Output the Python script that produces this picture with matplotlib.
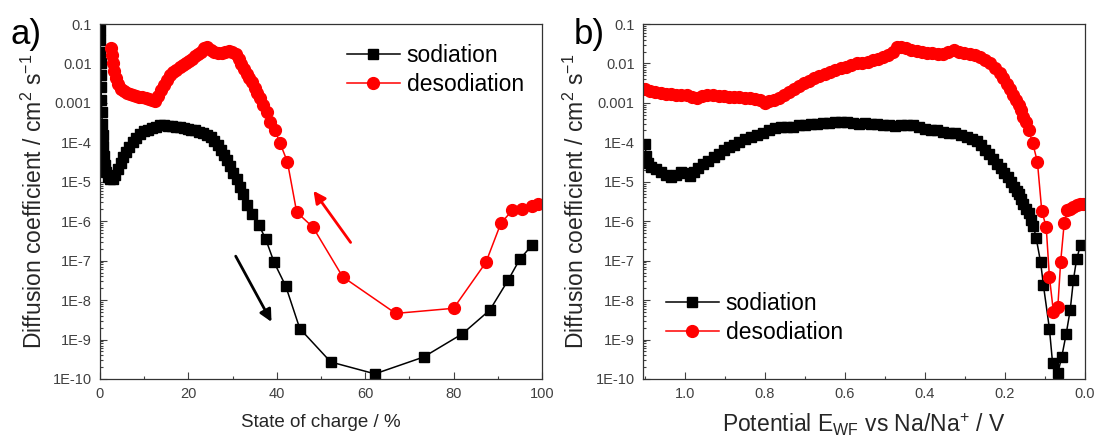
import matplotlib
matplotlib.use('Agg')
import matplotlib.pyplot as plt
from matplotlib.ticker import FixedLocator, FixedFormatter, LogLocator, NullFormatter, MultipleLocator

# panel a: diffusion coefficient vs state of charge
soc_sod = [0.0, 0.05, 0.1, 0.15, 0.2, 0.25, 0.3, 0.4, 0.5, 0.6,
           0.75, 0.9, 1.1, 1.4, 1.8, 2.3, 2.9, 3.5, 4.1, 4.7,
           5.3, 5.9, 6.6, 7.4, 8.2, 9.0, 9.9, 10.8, 11.7, 12.6,
           13.5, 14.4, 15.3, 16.2, 17.1, 18.0, 18.9, 19.8, 20.7, 21.6,
           22.5, 23.4, 24.3, 25.1, 25.9, 26.7, 27.4, 28.1, 28.8, 29.5,
           30.2, 30.9, 31.6, 32.3, 33.2, 34.5, 36.0, 37.5, 39.4, 42.0,
           45.2, 52.2, 62.2, 73.2, 82.0, 88.2, 92.4, 95.0, 97.8]
d_sod_a = [7e-2, 4e-2, 2e-2, 1e-2, 5e-3, 2.5e-3, 1.2e-3, 6e-4, 3e-4, 1.5e-4,
           8e-5, 4.5e-5, 2.7e-5, 1.8e-5, 1.3e-5, 1.15e-5, 1.2e-5, 1.5e-5, 2.1e-5, 3e-5,
           4.2e-5, 5.8e-5, 7.8e-5, 1.0e-4, 1.3e-4, 1.6e-4, 1.9e-4, 2.1e-4, 2.3e-4, 2.5e-4,
           2.7e-4, 2.7e-4, 2.65e-4, 2.6e-4, 2.5e-4, 2.4e-4, 2.3e-4, 2.2e-4, 2.1e-4, 2.0e-4,
           1.85e-4, 1.7e-4, 1.55e-4, 1.35e-4, 1.1e-4, 8.5e-5, 6.5e-5, 4.8e-5, 3.5e-5, 2.5e-5,
           1.7e-5, 1.15e-5, 7.5e-6, 4.8e-6, 2.6e-6, 1.5e-6, 7.8e-7, 3.5e-7, 9e-8, 2.3e-8,
           1.9e-9, 2.7e-10, 1.35e-10, 3.6e-10, 1.4e-9, 5.6e-9, 3.3e-8, 1.1e-7, 2.5e-7]

soc_des = [99.2, 97.8, 95.5, 93.3, 90.7, 87.3, 80.0, 66.9, 54.9, 48.2,
           44.5, 42.4, 40.7, 39.6, 38.5, 37.7, 36.9, 36.2, 35.6, 35.0,
           34.4, 33.8, 33.2, 32.6, 32.0, 31.4, 30.7, 29.9, 29.1, 28.3,
           27.5, 26.7, 25.9, 25.1, 24.3, 23.6, 22.9, 22.2, 21.5, 20.8,
           20.1, 19.4, 18.7, 18.0, 17.3, 16.6, 15.9, 15.2, 14.5, 13.8,
           13.1, 12.4, 11.7, 11.0, 10.3, 9.6, 8.9, 8.2, 7.5, 6.8,
           6.1, 5.4, 4.7, 4.1, 3.6, 3.2, 2.9, 2.7, 2.6]
d_des_a = [2.7e-6, 2.5e-6, 2.1e-6, 1.9e-6, 8.9e-7, 9e-8, 6.2e-9, 4.6e-9, 3.9e-8, 7e-7,
           1.7e-6, 3.2e-5, 9.8e-5, 2e-4, 3.3e-4, 6e-4, 9e-4, 1.3e-3, 1.8e-3, 2.4e-3,
           3.3e-3, 4.3e-3, 5.5e-3, 7.2e-3, 9.5e-3, 1.3e-2, 1.7e-2, 2.0e-2, 2.1e-2, 1.9e-2,
           1.8e-2, 1.85e-2, 2.0e-2, 2.2e-2, 2.6e-2, 2.5e-2, 2.0e-2, 1.7e-2, 1.5e-2, 1.3e-2,
           1.15e-2, 1.0e-2, 9e-3, 8e-3, 7e-3, 6e-3, 5e-3, 3.9e-3, 2.9e-3, 2.1e-3,
           1.5e-3, 1.1e-3, 1.15e-3, 1.25e-3, 1.35e-3, 1.4e-3, 1.45e-3, 1.5e-3, 1.6e-3, 1.7e-3,
           1.8e-3, 2.0e-3, 2.3e-3, 3.0e-3, 4.3e-3, 6.5e-3, 1.0e-2, 1.6e-2, 2.4e-2]

# panel b: diffusion coefficient vs potential
v_sod = [1.100, 1.097, 1.092, 1.085, 1.072, 1.060, 1.048, 1.035, 1.022, 1.010,
         0.998, 0.988, 0.978, 0.968, 0.955, 0.942, 0.928, 0.915, 0.903, 0.890,
         0.878, 0.865, 0.850, 0.835, 0.820, 0.805, 0.790, 0.775, 0.760, 0.745,
         0.730, 0.715, 0.700, 0.685, 0.670, 0.655, 0.640, 0.625, 0.610, 0.595,
         0.580, 0.565, 0.550, 0.535, 0.520, 0.505, 0.490, 0.475, 0.460, 0.445,
         0.430, 0.415, 0.400, 0.385, 0.370, 0.355, 0.340, 0.325, 0.310, 0.296,
         0.283, 0.270, 0.260, 0.250, 0.240, 0.230, 0.220, 0.210, 0.202, 0.193,
         0.185, 0.178, 0.171, 0.165, 0.159, 0.154, 0.147, 0.141, 0.135, 0.129,
         0.122, 0.111, 0.104, 0.089, 0.081, 0.068, 0.058, 0.047, 0.037, 0.029,
         0.021, 0.011]
d_sod_b = [9e-5, 4.5e-5, 3e-5, 2.4e-5, 2.1e-5, 1.8e-5, 1.5e-5, 1.35e-5, 1.5e-5, 1.8e-5,
           1.7e-5, 1.4e-5, 1.8e-5, 2.2e-5, 2.8e-5, 3.4e-5, 4.3e-5, 5.2e-5, 6.5e-5, 7.5e-5,
           8.5e-5, 1.0e-4, 1.2e-4, 1.35e-4, 1.5e-4, 1.7e-4, 2.0e-4, 2.3e-4, 2.4e-4, 2.5e-4,
           2.4e-4, 2.7e-4, 2.8e-4, 2.9e-4, 3.0e-4, 3.1e-4, 3.1e-4, 3.2e-4, 3.3e-4, 3.2e-4,
           3.1e-4, 3.0e-4, 3.1e-4, 3.0e-4, 2.9e-4, 2.8e-4, 2.7e-4, 2.6e-4, 2.7e-4, 2.8e-4,
           2.7e-4, 2.4e-4, 2.2e-4, 2.1e-4, 2.0e-4, 1.8e-4, 1.75e-4, 1.7e-4, 1.5e-4, 1.4e-4,
           1.25e-4, 1.05e-4, 8.5e-5, 6.5e-5, 5e-5, 3.7e-5, 2.8e-5, 2.2e-5, 1.7e-5, 1.3e-5,
           1.0e-5, 7.5e-6, 6e-6, 4.8e-6, 3.6e-6, 2.8e-6, 2.1e-6, 1.6e-6, 1.1e-6, 7.6e-7,
           3.7e-7, 9.2e-8, 2.4e-8, 1.9e-9, 2.5e-10, 1.4e-10, 3.7e-10, 1.4e-9, 5.6e-9, 3.2e-8,
           1.1e-7, 2.5e-7]

v_des = [0.004, 0.012, 0.021, 0.030, 0.037, 0.044, 0.052, 0.061, 0.068, 0.079,
         0.089, 0.097, 0.108, 0.119, 0.131, 0.141, 0.148, 0.154, 0.160, 0.166,
         0.172, 0.179, 0.188, 0.196, 0.204, 0.212, 0.224, 0.237, 0.250, 0.262,
         0.275, 0.288, 0.303, 0.316, 0.328, 0.342, 0.355, 0.368, 0.382, 0.395,
         0.408, 0.420, 0.434, 0.447, 0.460, 0.470, 0.480, 0.492, 0.505, 0.518,
         0.530, 0.543, 0.557, 0.570, 0.584, 0.597, 0.611, 0.625, 0.638, 0.651,
         0.664, 0.677, 0.690, 0.702, 0.714, 0.727, 0.740, 0.753, 0.766, 0.778,
         0.790, 0.800, 0.812, 0.825, 0.838, 0.851, 0.864, 0.877, 0.890, 0.903,
         0.916, 0.930, 0.944, 0.957, 0.970, 0.983, 0.996, 1.009, 1.022, 1.035,
         1.048, 1.061, 1.074, 1.087, 1.100]
d_des_b = [2.8e-6, 2.7e-6, 2.6e-6, 2.3e-6, 2.1e-6, 1.9e-6, 8.9e-7, 9e-8, 6.6e-9, 5.1e-9,
           3.9e-8, 7.2e-7, 1.8e-6, 3.2e-5, 9.8e-5, 2e-4, 3.3e-4, 4.5e-4, 6.5e-4, 9e-4,
           1.2e-3, 1.6e-3, 2.2e-3, 3.0e-3, 4.2e-3, 5.8e-3, 7.5e-3, 1.0e-2, 1.25e-2, 1.45e-2,
           1.6e-2, 1.7e-2, 1.8e-2, 2.0e-2, 2.2e-2, 1.9e-2, 1.7e-2, 1.7e-2, 1.8e-2, 1.8e-2,
           1.9e-2, 2.1e-2, 2.2e-2, 2.4e-2, 2.6e-2, 2.6e-2, 1.9e-2, 1.6e-2, 1.45e-2, 1.3e-2,
           1.2e-2, 1.1e-2, 1.05e-2, 1.0e-2, 9e-3, 8.3e-3, 7.6e-3, 6.8e-3, 6.0e-3, 5.4e-3,
           4.9e-3, 4.3e-3, 3.6e-3, 3.2e-3, 2.7e-3, 2.3e-3, 1.9e-3, 1.6e-3, 1.35e-3, 1.2e-3,
           1.1e-3, 1.0e-3, 1.15e-3, 1.25e-3, 1.3e-3, 1.3e-3, 1.4e-3, 1.45e-3, 1.45e-3, 1.5e-3,
           1.5e-3, 1.55e-3, 1.6e-3, 1.5e-3, 1.35e-3, 1.4e-3, 1.55e-3, 1.6e-3, 1.6e-3, 1.65e-3,
           1.7e-3, 1.75e-3, 1.9e-3, 2.0e-3, 2.2e-3]

y_ticks = [1e-10, 1e-9, 1e-8, 1e-7, 1e-6, 1e-5, 1e-4, 1e-3, 1e-2, 1e-1]
y_tick_labels = ['1E-10', '1E-9', '1E-8', '1E-7', '1E-6', '1E-5', '1E-4', '0.001', '0.01', '0.1']

plt.rcParams['font.family'] = ['Liberation Sans', 'DejaVu Sans']
plt.rcParams['mathtext.fontset'] = 'custom'
plt.rcParams['mathtext.rm'] = 'Liberation Sans'
plt.rcParams['mathtext.it'] = 'Liberation Sans:italic'
plt.rcParams['mathtext.default'] = 'regular'

tick_col = '#404040'
red = '#ff0000'

fig = plt.figure(figsize=(10.96, 4.38), dpi=100)
ax1 = fig.add_axes([100/1096, 59/438, 442/1096, 355/438])
ax2 = fig.add_axes([643/1096, 59/438, 442/1096, 355/438])


def style_axis(ax):
    ax.set_yscale('log')
    ax.set_ylim(1e-10, 0.1)
    ax.yaxis.set_major_locator(FixedLocator(y_ticks))
    ax.yaxis.set_major_formatter(FixedFormatter(y_tick_labels))
    ax.yaxis.set_minor_locator(LogLocator(base=10, subs=range(2, 10), numticks=20))
    ax.yaxis.set_minor_formatter(NullFormatter())
    ax.tick_params(which='both', direction='in', colors=tick_col, labelsize=10.5,
                   top=False, right=False, width=0.8)
    ax.tick_params(which='major', length=5, pad=6)
    ax.tick_params(which='minor', length=2.5)
    for s in ax.spines.values():
        s.set_color('#333333')
        s.set_linewidth(0.9)


# panel a
ax1.plot(soc_sod, d_sod_a, color='black', marker='s', ms=7.8, lw=1.1, label='sodiation')
ax1.plot(soc_des, d_des_a, color=red, marker='o', ms=8.5, lw=1.1, label='desodiation')
style_axis(ax1)
ax1.set_xlim(0, 100)
ax1.xaxis.set_major_locator(MultipleLocator(20))
ax1.xaxis.set_minor_locator(MultipleLocator(10))
ax1.set_xlabel('State of charge / %', fontsize=13.5, color='#262626', labelpad=9)
ax1.set_ylabel('Diffusion coefficient / cm$^{2}$ s$^{-1}$', fontsize=16.5, color='#262626', labelpad=4)
ax1.annotate('', xy=(38.8, 2.8e-9), xytext=(30.7, 1.3e-7),
             arrowprops=dict(arrowstyle='-|>', color='black', lw=2, mutation_scale=18,
                             shrinkA=0, shrinkB=0))
ax1.annotate('', xy=(48.3, 5.9e-6), xytext=(56.7, 2.9e-7),
             arrowprops=dict(arrowstyle='-|>', color=red, lw=2, mutation_scale=18,
                             shrinkA=0, shrinkB=0))
ax1.legend(loc='upper left', bbox_to_anchor=(0.559, 0.945), frameon=False, fontsize=16.5,
           handlelength=2.3, handletextpad=0.3, labelspacing=0.28, borderpad=0, borderaxespad=0)

# panel b
ax2.plot(v_sod, d_sod_b, color='black', marker='s', ms=7.8, lw=1.1, label='sodiation')
ax2.plot(v_des, d_des_b, color=red, marker='o', ms=8.5, lw=1.1, label='desodiation')
style_axis(ax2)
ax2.set_xlim(1.105, 0.0)
ax2.xaxis.set_major_locator(MultipleLocator(0.2))
ax2.xaxis.set_minor_locator(MultipleLocator(0.1))
ax2.xaxis.set_major_formatter(matplotlib.ticker.FormatStrFormatter('%.1f'))
ax2.set_xlabel('Potential E$_{WF}$ vs Na/Na$^{+}$ / V', fontsize=16.5, color='#262626', labelpad=7)
ax2.set_ylabel('Diffusion coefficient / cm$^{2}$ s$^{-1}$', fontsize=16.5, color='#262626', labelpad=5)
ax2.legend(loc='upper left', bbox_to_anchor=(0.052, 0.245), frameon=False, fontsize=16.5,
           handlelength=2.3, handletextpad=0.3, labelspacing=0.28, borderpad=0, borderaxespad=0)

fig.text(11/1096, 1 - 44/438, 'a)', fontsize=25, color='black')
fig.text(574/1096, 1 - 44/438, 'b)', fontsize=25, color='black')

fig.savefig('out.png', dpi=100)
